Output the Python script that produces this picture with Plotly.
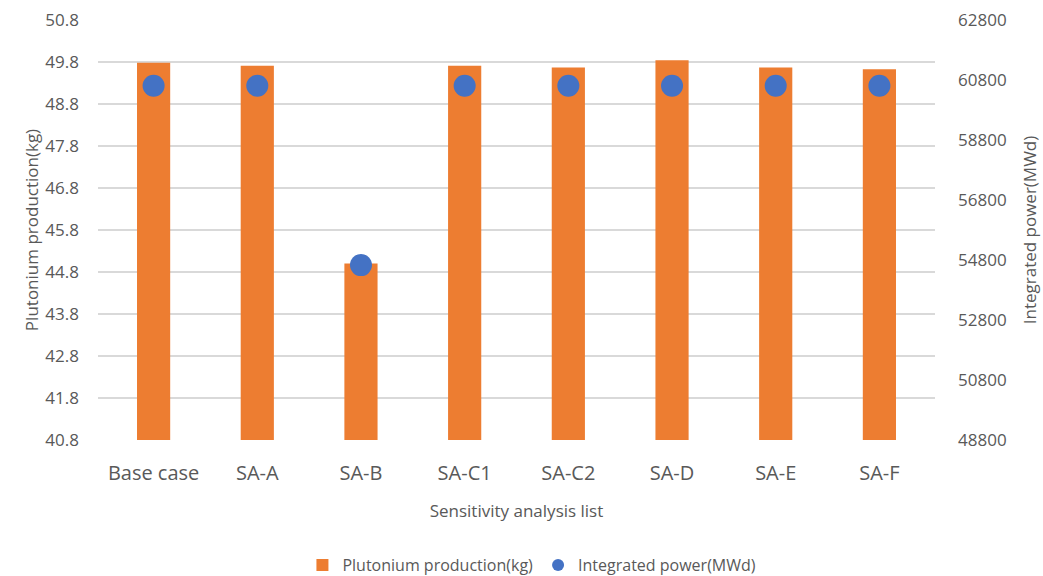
import plotly.graph_objects as go

# Sensitivity cases and results
cases = ["Base case", "SA-A", "SA-B", "SA-C1", "SA-C2", "SA-D", "SA-E", "SA-F"]
plutonium_kg = [49.78, 49.71, 45.00, 49.71, 49.67, 49.84, 49.67, 49.63]
power_mwd = [60610, 60610, 54630, 60610, 60610, 60610, 60610, 60610]

left_ticks = [40.8, 41.8, 42.8, 43.8, 44.8, 45.8, 46.8, 47.8, 48.8, 49.8, 50.8]
right_ticks = [48800, 50800, 52800, 54800, 56800, 58800, 60800, 62800]

font_family = "Open Sans, Noto Sans, sans-serif"
grey = "#595959"

fig = go.Figure()
fig.add_trace(go.Bar(
    x=cases, y=plutonium_kg, name="Plutonium production(kg)",
    marker=dict(color="#ED7D31", line=dict(width=0)),
    width=0.32, yaxis="y",
))
fig.add_trace(go.Scatter(
    x=cases, y=power_mwd, name="Integrated power(MWd)",
    mode="markers", marker=dict(color="#4472C4", size=22),
    yaxis="y2",
))

fig.update_layout(
    width=1043, height=576,
    margin=dict(l=98, r=108, t=20, b=136),
    paper_bgcolor="white", plot_bgcolor="white",
    font=dict(family=font_family, color=grey),
    xaxis=dict(
        title=dict(text="Sensitivity analysis list", font=dict(size=17, color=grey), standoff=20),
        tickfont=dict(size=20, color=grey), automargin=False,
        showline=False, showgrid=False, ticks="", ticklabelstandoff=19,
    ),
    yaxis=dict(
        title=dict(text="Plutonium production(kg)", font=dict(size=17, color=grey), standoff=2),
        range=[40.8, 50.8], tickvals=left_ticks, ticktext=[f"{v:.1f}" for v in left_ticks],
        tickfont=dict(size=17, color=grey), ticklabelstandoff=18, automargin=False,
        showgrid=True, gridcolor="#D9D9D9", gridwidth=1.5,
        zeroline=False, showline=False, ticks="",
    ),
    yaxis2=dict(
        title=dict(text="Integrated power(MWd)", font=dict(size=17, color=grey), standoff=18),
        range=[48800, 62800], tickvals=right_ticks, ticktext=[str(v) for v in right_ticks],
        tickfont=dict(size=17, color=grey), ticklabelstandoff=22, automargin=False,
        overlaying="y", side="right", showgrid=False, zeroline=False, showline=False, ticks="",
    ),
    legend=dict(
        orientation="h", x=0.51, xanchor="center", xref="container",
        y=1 - 565 / 576, yanchor="middle", yref="container",
        font=dict(size=16, color=grey), itemsizing="constant", itemwidth=30,
    ),
)

fig.write_html("out.html")
